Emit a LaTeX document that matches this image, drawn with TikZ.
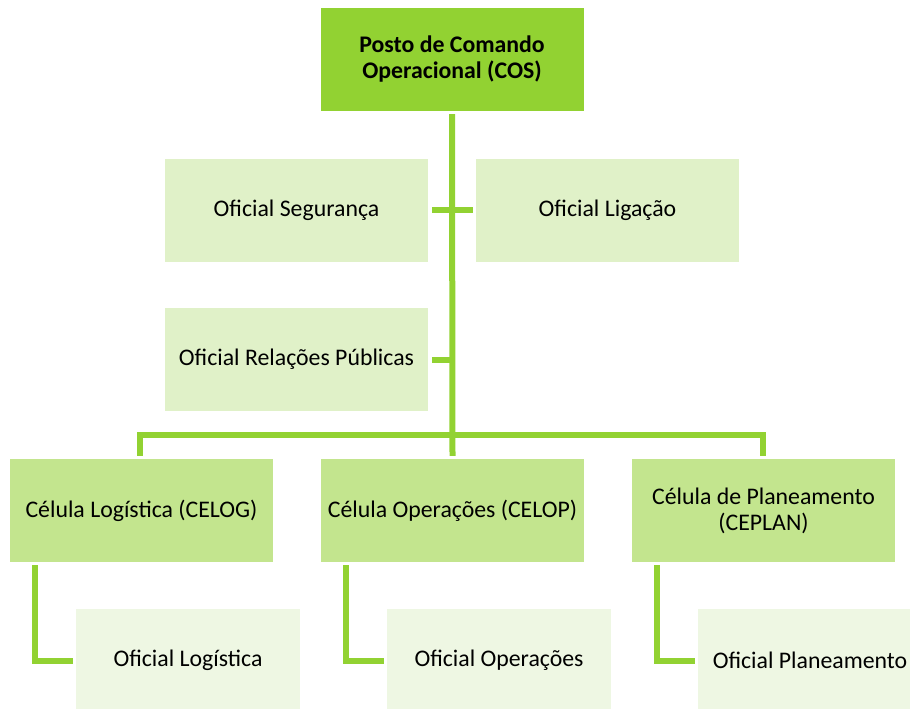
\documentclass[tikz,border=0pt]{standalone}
\usepackage{fontspec}
\setmainfont{Carlito}
\definecolor{gTop}{HTML}{92D232}
\definecolor{gCell}{HTML}{C3E58E}
\definecolor{gMid}{HTML}{E0F1C8}
\definecolor{gLow}{HTML}{EEF7E3}
\definecolor{gLine}{HTML}{92D232}
\tikzset{
  box/.style={rectangle, draw=none, minimum width=263pt, minimum height=103pt, inner sep=0pt, align=center, font=\fontsize{23.8}{26}\selectfont, text=black},
  topbox/.style={box, fill=gTop, font=\fontsize{23.8}{26}\selectfont\bfseries},
  midbox/.style={box, fill=gMid},
  cellbox/.style={box, fill=gCell},
  lowbox/.style={box, fill=gLow, minimum width=224pt},
  conn/.style={draw=gLine, line width=6pt}
}
\begin{document}
\begin{tikzpicture}[x=1pt,y=-1pt]
\useasboundingbox (0,0) rectangle (910,709);
\begin{scope}
\clip (0,0) rectangle (910,709);
\node[topbox] (cos) at (452,59.5) {Posto de Comando\\Operacional (COS)};
\node[midbox] (seg) at (296.5,210) {Oficial Segurança};
\node[midbox] (lig) at (607.5,210) {Oficial Ligação};
\node[midbox] (rp) at (296.5,359.5) {Oficial Relações Públicas};
\node[cellbox] (celog) at (141.5,510.5) {Célula Logística (CELOG)};
\node[cellbox] (celop) at (452.5,510.5) {Célula Operações (CELOP)};
\node[cellbox] (ceplan) at (763.5,510.5) {Célula de Planeamento\\(CEPLAN)};
\node[lowbox] (olog) at (188,660.5) {Oficial Logística};
\node[lowbox] (oop) at (499,660.5) {Oficial Operações};
\node[lowbox] (opl) at (810,660.5) {Oficial Planeamento};

\coordinate (bus) at (452,435);
\draw[conn] ([yshift=-3pt]cos.south) -- ([yshift=3pt]celop.north);
\draw[conn] ([xshift=4pt]seg.east) -- ([xshift=-3pt]lig.west);
\draw[conn] ([xshift=4pt]rp.east) -- (rp.east -| bus);
\draw[conn] ([yshift=3pt]celog.north -| 140,0) |- (bus) -| ([yshift=3pt]ceplan.north -| 763,0);
\draw[conn] ([yshift=-3pt]celog.south -| 35,0) |- ([xshift=-3pt]olog.west);
\draw[conn] ([yshift=-3pt]celop.south -| 346,0) |- ([xshift=-3pt]oop.west);
\draw[conn] ([yshift=-3pt]ceplan.south -| 657,0) |- ([xshift=-3pt]opl.west);
\end{scope}
\end{tikzpicture}
\end{document}
